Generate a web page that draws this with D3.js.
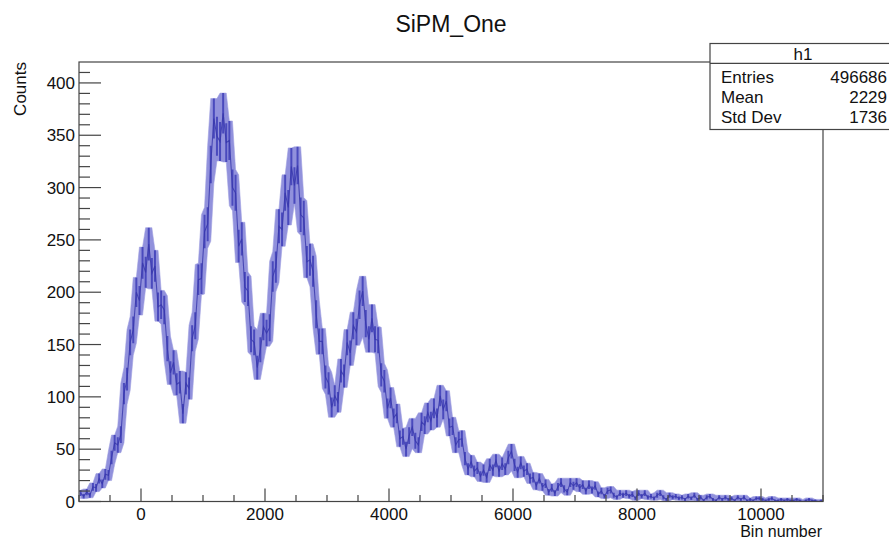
<!DOCTYPE html>
<html>
<head>
<meta charset="utf-8">
<title>SiPM_One</title>
<script type="text/javascript" src="https://d3js.org/d3.v7.min.js"></script>
<style>
body { margin: 0; background: #fff; }
text { font-family: "Liberation Sans", Arial, Helvetica, sans-serif; fill: #111; }
</style>
</head>
<body>
<div id="container"></div>
<script>

//----------------------------DATA-------------------------------//
// histogram h1, bins of 50 starting at -1000 (counts)
var binStart = -1000;
var binWidth = 50;
var counts = [
  8, 5, 9, 6, 14, 13, 22, 17, 26, 25,
  42, 56, 54, 64, 103, 117, 152, 164, 200, 192,
  228, 219, 246, 218, 225, 186, 188, 183, 146, 123,
  133, 112, 114, 84, 113, 108, 156, 168, 212, 213,
  258, 265, 322, 366, 349, 344, 371, 343, 345, 300,
  295, 244, 251, 205, 201, 155, 152, 128, 145, 167,
  161, 166, 215, 224, 263, 260, 295, 281, 320, 302,
  321, 274, 271, 229, 231, 220, 179, 153, 153, 119,
  113, 90, 101, 95, 125, 120, 152, 142, 168, 162,
  188, 201, 170, 155, 175, 155, 154, 121, 115, 89,
  99, 80, 84, 60, 62, 50, 63, 71, 58, 54,
  76, 73, 85, 77, 89, 80, 101, 88, 96, 71,
  72, 54, 59, 60, 41, 31, 38, 29, 32, 24,
  30, 23, 35, 30, 39, 29, 36, 31, 42, 48,
  35, 28, 37, 29, 31, 22, 23, 15, 22, 14,
  17, 9, 13, 8, 14, 18, 12, 9, 18, 15,
  18, 13, 16, 10, 16, 11, 15, 7, 10, 5,
  10, 11, 6, 4, 8, 6, 8, 5, 7, 3,
  8, 5, 8, 4, 5, 3, 6, 8, 4, 2,
  6, 4, 5, 3, 4, 2, 5, 3, 6, 2,
  4, 1, 4, 5, 2, 1, 4, 2, 4, 2,
  3, 1, 4, 2, 4, 1, 2, 1, 3, 3,
  2, 1, 2, 3, 1, 1, 2, 1, 2, 1,
  1, 2, 1, 0, 1, 2, 1, 1, 0, 1
];

var xTicks = [0, 2000, 4000, 6000, 8000, 10000];
var yTicks = [0, 50, 100, 150, 200, 250, 300, 350, 400];

var statsTitle = "h1";
var statsLabels = ["Entries", "Mean", "Std Dev"];
var statsValues = ["496686", "2229", "1736"];

//----------------------------SVG--------------------------------//
var width = 889, height = 539;
var frame = { left: 79, right: 823, top: 62, bottom: 501.5 };

var svg = d3.select("#container").append("svg")
    .attr("width", width)
    .attr("height", height)
    .style("display", "block");

svg.append("rect").attr("width", width).attr("height", height).attr("fill", "#fff");

//---------------------------SCALES------------------------------//
var xScale = d3.scaleLinear().domain([-1000, 11000]).range([frame.left, frame.right]);
var yScale = d3.scaleLinear().domain([0, 420]).range([frame.bottom, frame.top]);

svg.append("clipPath").attr("id", "clip")
  .append("rect")
    .attr("x", frame.left).attr("y", frame.top)
    .attr("width", frame.right - frame.left)
    .attr("height", frame.bottom - frame.top);

//--------------------------HISTOGRAM----------------------------//
var bins = counts.map(function(c, i) {
    return { x: binStart + (i + 0.5) * binWidth, n: c, e: Math.sqrt(c) };
});

// outline of the error bars of neighbouring bins, as the bars
// blend together at this screen resolution
bins.forEach(function(d, i) {
    var near = bins.slice(Math.max(0, i - 1), i + 2);
    d.top = d3.max(near, function(b) { return b.n + b.e; });
    d.bot = d3.min(near, function(b) { return b.n - b.e; });
});

var hist = svg.append("g").attr("clip-path", "url(#clip)");

var band = d3.area()
    .x(function(d) { return xScale(d.x); })
    .y0(function(d) { return yScale(d.bot); })
    .y1(function(d) { return yScale(d.top); });

hist.append("path")
    .attr("d", band(bins))
    .attr("fill", "#9191dc")
    .attr("stroke", "#a0a0e0")
    .attr("stroke-width", 0.6);

// vertical error bars
hist.selectAll("line.err")
    .data(bins.filter(function(d) { return d.n > 0; }))
    .enter()
    .append("line")
    .attr("class", "err")
    .attr("x1", function(d) { return xScale(d.x); })
    .attr("x2", function(d) { return xScale(d.x); })
    .attr("y1", function(d) { return yScale(d.n - d.e); })
    .attr("y2", function(d) { return yScale(d.n + d.e); })
    .attr("stroke", "#4a4abd")
    .attr("stroke-width", 2);

// bin contents
var centre = d3.line()
    .x(function(d) { return xScale(d.x); })
    .y(function(d) { return yScale(d.n); });

hist.append("path")
    .attr("d", centre(bins))
    .attr("fill", "none")
    .attr("stroke", "#3636aa")
    .attr("stroke-opacity", 0.8)
    .attr("stroke-width", 1.1);

//----------------------------AXES-------------------------------//
var axisColor = "#444";

// frame
svg.append("rect")
    .attr("x", frame.left).attr("y", frame.top)
    .attr("width", frame.right - frame.left)
    .attr("height", frame.bottom - frame.top)
    .attr("fill", "none")
    .attr("stroke", axisColor)
    .attr("stroke-width", 1.2);

// x ticks (inside, pointing up)
var xMinor = d3.range(-1000, 11001, 500).filter(function(v) { return v % 2000 !== 0; });
svg.selectAll("line.xminor")
    .data(xMinor)
    .enter().append("line")
    .attr("x1", function(d) { return xScale(d); })
    .attr("x2", function(d) { return xScale(d); })
    .attr("y1", frame.bottom)
    .attr("y2", frame.bottom - 6.5)
    .attr("stroke", axisColor).attr("stroke-width", 1.2);

svg.selectAll("line.xmajor")
    .data(xTicks)
    .enter().append("line")
    .attr("x1", function(d) { return xScale(d); })
    .attr("x2", function(d) { return xScale(d); })
    .attr("y1", frame.bottom)
    .attr("y2", frame.bottom - 13)
    .attr("stroke", axisColor).attr("stroke-width", 1.2);

svg.selectAll("text.xlab")
    .data(xTicks)
    .enter().append("text")
    .attr("x", function(d) { return xScale(d); })
    .attr("y", 520)
    .attr("text-anchor", "middle")
    .style("font-size", "17px")
    .text(function(d) { return d; });

// y ticks (inside, pointing right)
var yMinor = d3.range(0, 420, 10).filter(function(v) { return v % 50 !== 0; });
svg.selectAll("line.yminor")
    .data(yMinor)
    .enter().append("line")
    .attr("x1", frame.left)
    .attr("x2", frame.left + 11)
    .attr("y1", function(d) { return yScale(d); })
    .attr("y2", function(d) { return yScale(d); })
    .attr("stroke", axisColor).attr("stroke-width", 1.2);

svg.selectAll("line.ymajor")
    .data(yTicks)
    .enter().append("line")
    .attr("x1", frame.left)
    .attr("x2", frame.left + 22)
    .attr("y1", function(d) { return yScale(d); })
    .attr("y2", function(d) { return yScale(d); })
    .attr("stroke", axisColor).attr("stroke-width", 1.2);

svg.selectAll("text.ylab")
    .data(yTicks)
    .enter().append("text")
    .attr("x", 75)
    .attr("y", function(d) { return yScale(d); })
    .attr("dy", "0.36em")
    .attr("text-anchor", "end")
    .style("font-size", "17px")
    .text(function(d) { return d; });

//---------------------------LABELS------------------------------//
svg.append("text")
    .attr("x", 451)
    .attr("y", 32)
    .attr("text-anchor", "middle")
    .style("font-size", "23px")
    .text("SiPM_One");

svg.append("text")
    .attr("transform", "translate(26," + frame.top + ") rotate(-90)")
    .attr("text-anchor", "end")
    .style("font-size", "17px")
    .text("Counts");

svg.append("text")
    .attr("x", frame.right - 1)
    .attr("y", 537)
    .attr("text-anchor", "end")
    .style("font-size", "16px")
    .text("Bin number");

//--------------------------STATS BOX----------------------------//
var box = { x: 710, y: 43.5, w: 186, h: 86 };
var stats = svg.append("g");

stats.append("rect")
    .attr("x", box.x).attr("y", box.y)
    .attr("width", box.w).attr("height", box.h)
    .attr("fill", "#fff")
    .attr("stroke", axisColor)
    .attr("stroke-width", 1.2);

stats.append("line")
    .attr("x1", box.x).attr("x2", box.x + box.w)
    .attr("y1", 63.3).attr("y2", 63.3)
    .attr("stroke", axisColor).attr("stroke-width", 1.2);

stats.append("text")
    .attr("x", 803).attr("y", 60)
    .attr("text-anchor", "middle")
    .style("font-size", "17px")
    .text(statsTitle);

stats.selectAll("text.slab")
    .data(statsLabels)
    .enter().append("text")
    .attr("x", 721)
    .attr("y", function(d, i) { return 82.7 + i * 20; })
    .style("font-size", "17px")
    .text(function(d) { return d; });

stats.selectAll("text.sval")
    .data(statsValues)
    .enter().append("text")
    .attr("x", 887)
    .attr("y", function(d, i) { return 82.7 + i * 20; })
    .attr("text-anchor", "end")
    .style("font-size", "17px")
    .text(function(d) { return d; });

</script>
</body>
</html>
